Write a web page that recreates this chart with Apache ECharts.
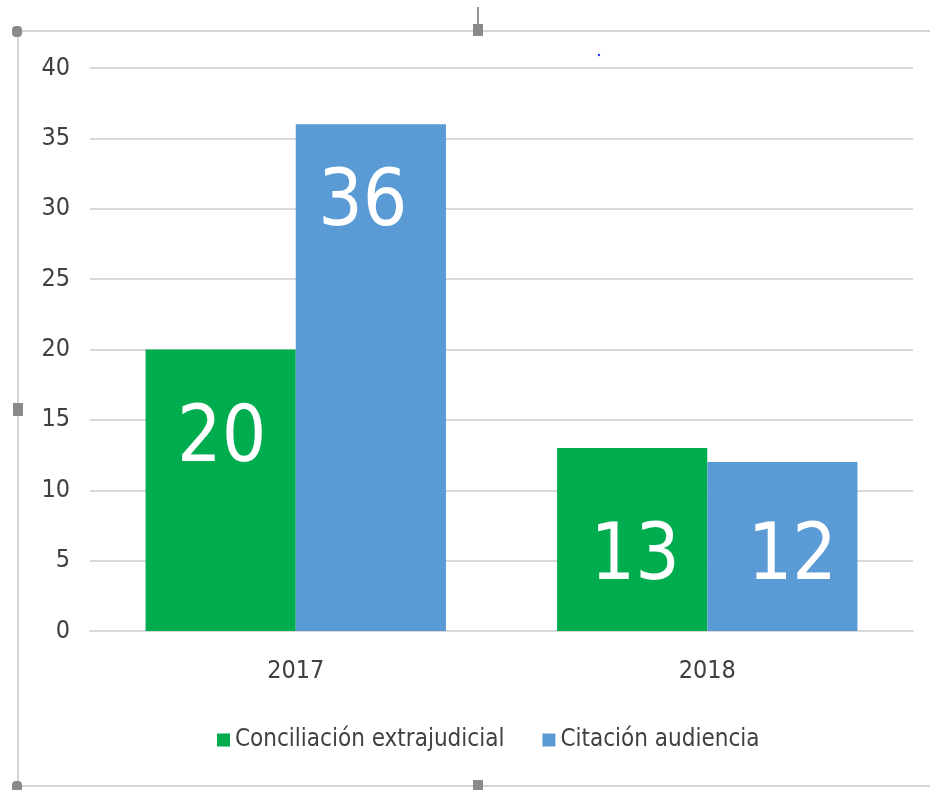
<!DOCTYPE html>
<html>
<head>
<meta charset="utf-8">
<script src="https://cdn.jsdelivr.net/npm/echarts@6/dist/echarts.min.js"></script>
<style>
  html, body { margin: 0; padding: 0; background: #fff; }
  #chart { width: 930px; height: 790px; }
</style>
</head>
<body>
<div id="chart"></div>
<script>
// datos del grafico
var years = ['2017', '2018'];
var conciliacion = [20, 13];
var citacion = [36, 12];
var yTicks = [0, 40, 5]; // min, max, intervalo

// desplazamiento de las etiquetas dentro de las barras (solo estilo)
var greenLabelShift = [[1, -50], [3, 19]];
var blueLabelShift = [[-8, -173], [10, 12]];

var FONT = "'Liberation Sans Narrow', 'DejaVu Sans Condensed', 'Liberation Sans', sans-serif";

var buildItems = (values, shifts) => {
  return values.map((v, i) => {
    return { value: v, label: { offset: shifts[i] } };
  });
};

var chart = echarts.init(document.getElementById('chart'));

var handle = '#8a8a8a';
var frame = '#d4d4d4';

chart.setOption({
  backgroundColor: '#ffffff',
  animation: false,
  grid: { left: 90, right: 17, top: 68, bottom: 159 },
  legend: {
    top: 723,
    left: 212,
    itemWidth: 13,
    itemHeight: 13,
    itemGap: 38,
    icon: 'rect',
    textStyle: { fontFamily: FONT, fontSize: 24, color: '#404040' },
    data: ['Conciliación extrajudicial', 'Citación audiencia']
  },
  xAxis: {
    type: 'category',
    data: years,
    axisLine: { show: true, lineStyle: { color: '#d9d9d9', width: 2 } },
    axisTick: { show: false },
    axisLabel: { fontFamily: FONT, fontSize: 25, color: '#404040', margin: 28 }
  },
  yAxis: {
    type: 'value',
    min: yTicks[0],
    max: yTicks[1],
    interval: yTicks[2],
    axisLine: { show: false },
    axisTick: { show: false },
    axisLabel: { fontFamily: FONT, fontSize: 25, color: '#404040', margin: 20 },
    splitLine: { lineStyle: { color: '#d9d9d9', width: 2 } }
  },
  series: [
    {
      name: 'Conciliación extrajudicial',
      type: 'bar',
      barGap: '0%',
      barCategoryGap: '27%',
      itemStyle: { color: '#00ad4e' },
      label: { show: true, position: 'inside', color: '#fff', fontFamily: FONT, fontSize: 78 },
      data: buildItems(conciliacion, greenLabelShift)
    },
    {
      name: 'Citación audiencia',
      type: 'bar',
      barGap: '0%',
      barCategoryGap: '27%',
      itemStyle: { color: '#5b9bd5' },
      label: { show: true, position: 'inside', color: '#fff', fontFamily: FONT, fontSize: 78 },
      data: buildItems(citacion, blueLabelShift)
    }
  ],
  // marco y tiradores de la captura original
  graphic: [
    { type: 'line', shape: { x1: 17, y1: 31, x2: 930, y2: 31 }, style: { stroke: frame, lineWidth: 2 } },
    { type: 'line', shape: { x1: 18, y1: 31, x2: 18, y2: 786 }, style: { stroke: frame, lineWidth: 2 } },
    { type: 'line', shape: { x1: 17, y1: 786, x2: 930, y2: 786 }, style: { stroke: frame, lineWidth: 2 } },
    { type: 'line', shape: { x1: 478, y1: 7, x2: 478, y2: 25 }, style: { stroke: '#707070', lineWidth: 1.5 } },
    { type: 'rect', shape: { x: 12, y: 26, width: 10, height: 11, r: 4 }, style: { fill: handle } },
    { type: 'rect', shape: { x: 473, y: 24, width: 10, height: 12 }, style: { fill: handle } },
    { type: 'rect', shape: { x: 13, y: 403, width: 10, height: 13 }, style: { fill: handle } },
    { type: 'rect', shape: { x: 12, y: 781, width: 10, height: 11, r: 4 }, style: { fill: handle } },
    { type: 'rect', shape: { x: 473, y: 780, width: 10, height: 12 }, style: { fill: handle } },
    { type: 'circle', shape: { cx: 599, cy: 55, r: 1.2 }, style: { fill: '#3030ff' } }
  ]
});
</script>
</body>
</html>
